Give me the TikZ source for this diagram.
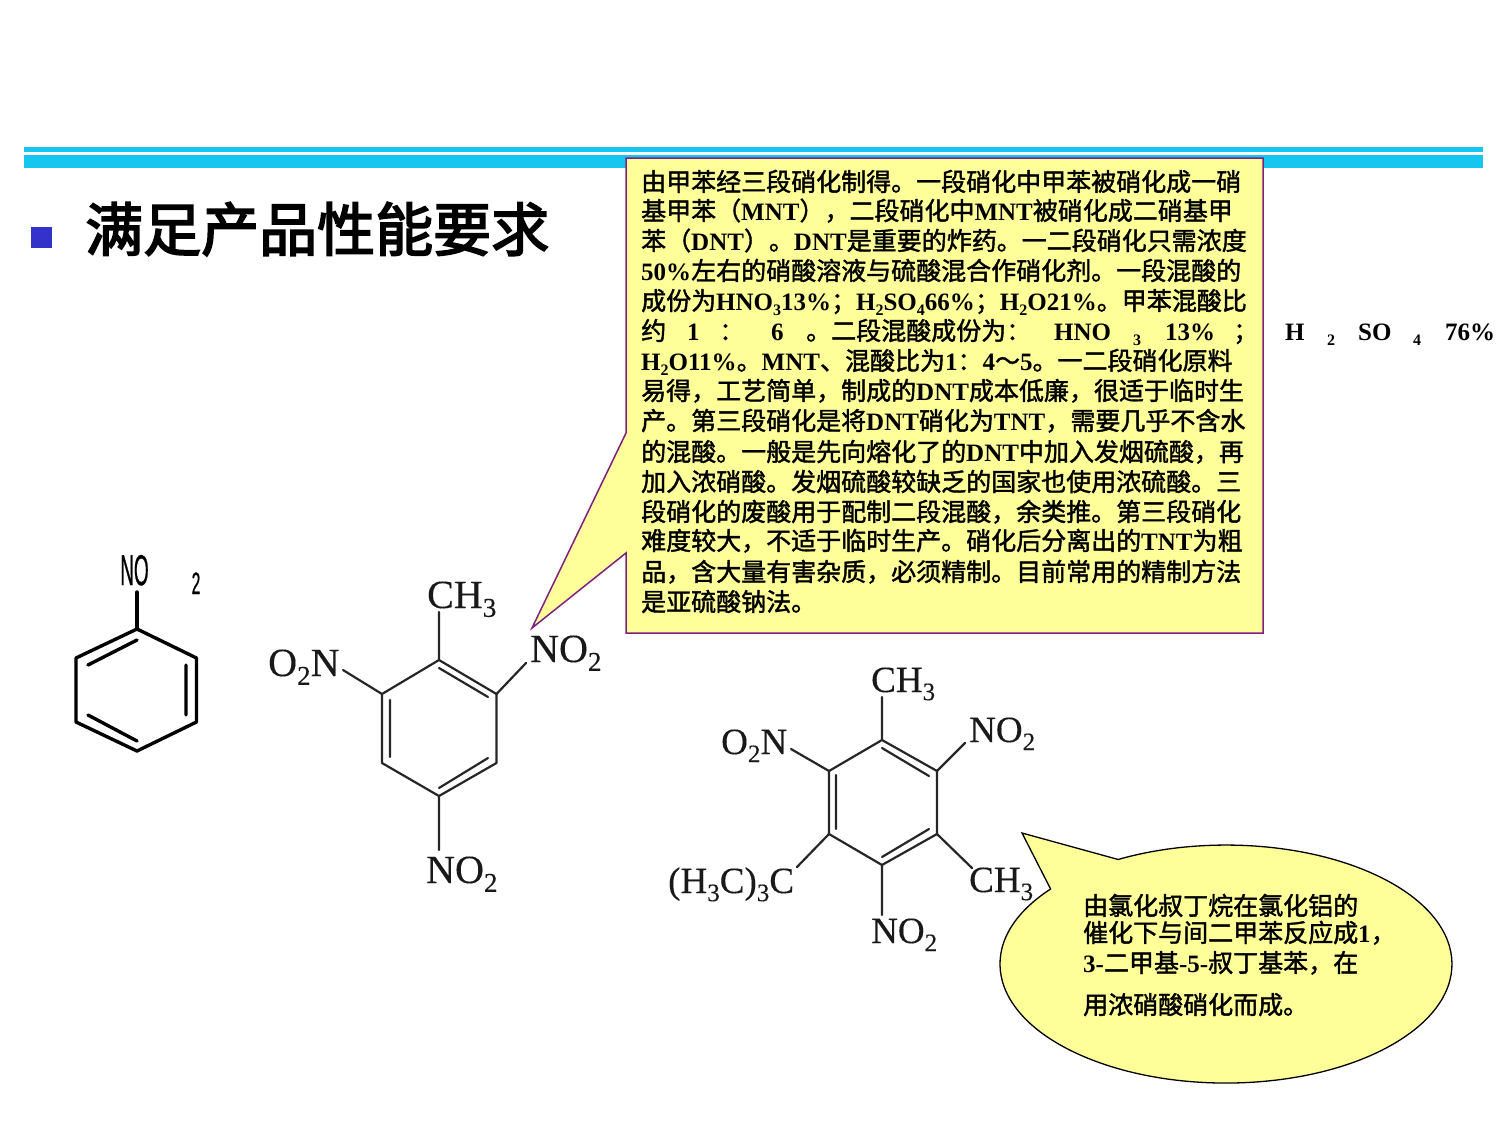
\documentclass[tikz,border=0pt]{standalone}
\usepackage{fontspec}
\usepackage{graphicx}
\newfontfamily\cjk{Noto Sans CJK SC}[FakeBold=1.6]
\newfontfamily\cjkt{Noto Sans CJK SC}[FakeBold=3]
\newfontfamily\latb{Liberation Serif}
\newfontfamily\latr{Liberation Serif}[FakeBold=0.25]
\newfontfamily\narrow{Liberation Sans}[FakeBold=1]
\newcommand\la[1]{{\latb\bfseries #1}}
\newcommand\sbs[1]{\raisebox{-5pt}{\fontsize{16}{16}\selectfont\latb\bfseries #1}}
\newcommand\csub[1]{\raisebox{-0.22em}{\fontsize{0.68em}{1em}\selectfont #1}}
\definecolor{barblue}{HTML}{17C6F0}
\definecolor{bullet}{HTML}{3333CC}
\definecolor{callfill}{HTML}{FFFF99}
\definecolor{callline}{HTML}{7F1F7F}
\tikzset{
  txt/.style={anchor=base west,inner sep=0pt,font=\cjk\fontsize{25}{25}\selectfont},
  bond/.style={line width=2.2pt,line cap=round,line join=round,black!85},
  bondthick/.style={line width=3.4pt,line cap=round,line join=round,black},
  chem/.style={anchor=base west,inner sep=0pt,font=\latr\fontsize{40}{40}\selectfont,text=black!90},
  chemb/.style={anchor=base west,inner sep=0pt,font=\latr\fontsize{37}{37}\selectfont,text=black!90},
}
\begin{document}
\begin{tikzpicture}[x=1pt,y=-1pt]
\useasboundingbox (0,0) rectangle (1500,1125);
% top bars
\fill[barblue] (24,147) rectangle (1483,152);
\fill[barblue] (24,155) rectangle (1483,168);
% title
\fill[bullet] (31,227) rectangle (52,248);
\node[anchor=base west,inner sep=0pt,font=\cjkt\fontsize{58}{58}\selectfont] (title) at (85,251) {满足产品性能要求};
% rectangular callout
\draw[fill=callfill,draw=callline,line width=1.5pt,line join=miter] (626,158) -- (1263,158) -- (1263,633) -- (626,633) -- (626,553) -- (532,628) -- (626,433) -- cycle;
\newcommand\tl[3]{\node[txt] (l#1) at (641,#2) {#3};}
\tl{1}{191}{由甲苯经三段硝化制得。一段硝化中甲苯被硝化成一硝}
\tl{2}{220}{基甲苯（\la{MNT}），二段硝化中\la{MNT}被硝化成二硝基甲}
\tl{3}{250}{苯（\la{DNT}）。\la{DNT}是重要的炸药。一二段硝化只需浓度}
\tl{4}{280}{\la{50\%}左右的硝酸溶液与硫酸混合作硝化剂。一段混酸的}
\tl{5}{310}{成份为\la{HNO}\sbs{3}\la{13\%}；\la{H}\sbs{2}\la{SO}\sbs{4}\la{66\%}；\la{H}\sbs{2}\la{O21\%}。甲苯混酸比}
\node[txt] (l6a) at (641,340) {约};
\node[txt] (l6b) at (687,340) {\la{1}};
\node[txt] (l6c) at (719,340) {：};
\node[txt] (l6d) at (771,340) {\la{6}};
\node[txt] (l6e) at (806,340) {。二段混酸成份为：};
\node[txt] (l6f) at (1054,340) {\la{HNO}};
\node[txt] (l6g) at (1133,340) {\sbs{3}};
\node[txt] (l6h) at (1165,340) {\la{13\%}};
\node[txt] (l6i) at (1233,340) {；};
\node[txt] (l6j) at (1285,340) {\la{H}};
\node[txt] (l6k) at (1327,340) {\sbs{2}};
\node[txt] (l6l) at (1358,340) {\la{SO}};
\node[txt] (l6m) at (1413,340) {\sbs{4}};
\node[txt] (l6n) at (1445,340) {\la{76\%}};
\tl{7}{370}{\la{H}\sbs{2}\la{O11\%}。\la{MNT}、混酸比为\la{1}：\la{4}～\la{5}。一二段硝化原料}
\tl{8}{400}{易得，工艺简单，制成的\la{DNT}成本低廉，很适于临时生}
\tl{9}{430}{产。第三段硝化是将\la{DNT}硝化为\la{TNT}，需要几乎不含水}
\tl{10}{461}{的混酸。一般是先向熔化了的\la{DNT}中加入发烟硫酸，再}
\tl{11}{491}{加入浓硝酸。发烟硫酸较缺乏的国家也使用浓硫酸。三}
\tl{12}{521}{段硝化的废酸用于配制二段混酸，余类推。第三段硝化}
\tl{13}{550}{难度较大，不适于临时生产。硝化后分离出的\la{TNT}为粗}
\tl{14}{581}{品，含大量有害杂质，必须精制。目前常用的精制方法}
\tl{15}{611}{是亚硫酸钠法。}
% left benzene
\coordinate (a1) at (137,629); \coordinate (a2) at (196.5,658); \coordinate (a3) at (196.5,722);
\coordinate (a4) at (137,751); \coordinate (a5) at (76,722); \coordinate (a6) at (76,658);
\coordinate (a0) at (137,592);
\draw[bondthick] (a1)--(a2)--(a3)--(a4)--(a5)--(a6)--cycle;
\draw[bondthick] (a0)--(a1);
\draw[bondthick] (88,665)--(137,640) (186,665)--(186,715) (88,715)--(137,741);
\node[anchor=base,inner sep=0pt,font=\narrow\fontsize{43}{43}\selectfont,xscale=0.44] (no) at (134.5,585) {NO};
\node[anchor=base,inner sep=0pt,font=\narrow\fontsize{31}{31}\selectfont,xscale=0.5] (no2) at (196,594) {2};
% middle molecule
\coordinate (b1) at (439,660); \coordinate (b2) at (496.5,694); \coordinate (b3) at (496.5,763);
\coordinate (b4) at (439,796); \coordinate (b5) at (382,763); \coordinate (b6) at (382,694);
\draw[bond] (b1)--(b2)--(b3)--(b4)--(b5)--(b6)--cycle;
\draw[bond] (439,668)--(488,697) (390,700)--(390,757) (439,788)--(488,758);
\node[chem] (bch) at (427,608) {CH\csub{3}};
\node[chem] (bno) at (530,662) {NO\csub{2}};
\node[chem] (bon) at (268,676) {O\csub{2}N};
\node[chem] (bnb) at (426,883) {NO\csub{2}};
\coordinate (bc1) at (439,612); \coordinate (bc2) at (526,663); \coordinate (bc3) at (343,670); \coordinate (bc4) at (439,850);
\draw[bond] (b1)--(bc1) (b2)--(bc2) (b6)--(bc3) (b4)--(bc4);
% ellipse callout
\draw[fill=callfill,draw=black,line width=1.3pt,line join=miter] (1022,833) -- (1050.6,889) arc[start angle=219.1,end angle=-118.5,x radius=226,y radius=119] -- cycle;
% right molecule
\coordinate (c1) at (882,740); \coordinate (c2) at (937,771); \coordinate (c3) at (937,834);
\coordinate (c4) at (882,865); \coordinate (c5) at (829,834); \coordinate (c6) at (829,771);
\draw[bond] (c1)--(c2)--(c3)--(c4)--(c5)--(c6)--cycle;
\draw[bond] (882,748)--(929,776) (836,775)--(836,829) (882,857)--(929,829);
\node[chemb] (cch) at (871,692) {CH\csub{3}};
\node[chemb] (cno) at (969,742) {NO\csub{2}};
\node[chemb] (con) at (721,754) {O\csub{2}N};
\node[chemb] (ctb) at (668,893) {(H\csub{3}C)\csub{3}C};
\node[chemb] (cme) at (969,892) {CH\csub{3}};
\node[chemb] (cnb) at (871,943) {NO\csub{2}};
\coordinate (cc1) at (882,697); \coordinate (cc2) at (965,743); \coordinate (cc3) at (791,749);
\coordinate (cc4) at (797,867); \coordinate (cc5) at (972,868); \coordinate (cc6) at (882,915);
\draw[bond] (c1)--(cc1) (c2)--(cc2) (c6)--(cc3) (c5)--(cc4) (c3)--(cc5) (c4)--(cc6);
% ellipse text
\node[txt] (e1) at (1083,915) {由氯化叔丁烷在氯化铝的};
\node[txt] (e2) at (1083,942) {催化下与间二甲苯反应成\la{1}，};
\node[txt] (e3) at (1083,972) {\la{3-}二甲基\la{-5-}叔丁基苯，在};
\node[txt] (e4) at (1083,1014) {用浓硝酸硝化而成。};
\end{tikzpicture}
\end{document}
